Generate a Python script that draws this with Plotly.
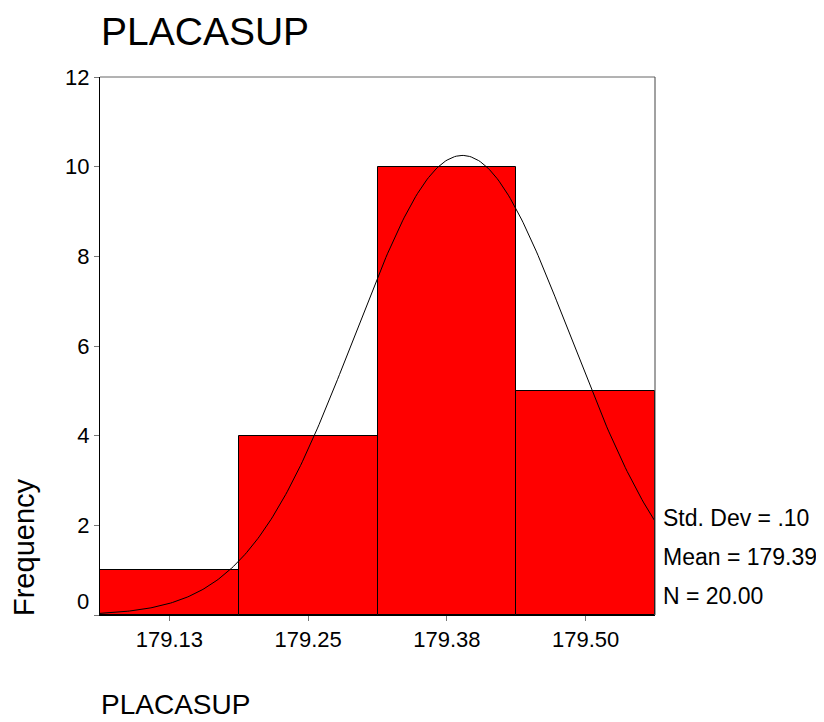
import numpy as np
import plotly.graph_objects as go

# Data
bin_centers = [179.125, 179.25, 179.375, 179.5]
frequencies = [1, 4, 10, 5]
tick_labels = ["179.13", "179.25", "179.38", "179.50"]
y_ticks = [0, 2, 4, 6, 8, 10, 12]
bin_width = 0.125
curve_mean = 179.389
curve_sd = 0.0973
n_obs = 20
stats_text = ["Std. Dev = .10", "Mean = 179.39", "N = 20.00"]

FONT = "Liberation Sans, Arial, sans-serif"

x_lo = bin_centers[0] - bin_width / 2
x_hi = bin_centers[-1] + bin_width / 2
xs = np.linspace(x_lo, x_hi, 300)
ys = n_obs * bin_width / (curve_sd * np.sqrt(2 * np.pi)) * np.exp(-0.5 * ((xs - curve_mean) / curve_sd) ** 2)

fig = go.Figure()
fig.add_trace(go.Bar(
    x=bin_centers, y=frequencies, width=[bin_width] * len(bin_centers),
    marker=dict(color="#FF0000", line=dict(color="black", width=1)),
    hoverinfo="skip", showlegend=False,
))
fig.add_trace(go.Scatter(
    x=xs, y=ys, mode="lines", line=dict(color="black", width=1),
    hoverinfo="skip", showlegend=False,
))

# frame top/right
fig.add_shape(type="line", xref="paper", yref="paper", x0=0, x1=1, y0=1, y1=1,
              line=dict(color="#666666", width=1))
fig.add_shape(type="line", xref="paper", yref="paper", x0=1, x1=1, y0=0, y1=1,
              line=dict(color="#444444", width=1))

annotations = [
    dict(text="PLACASUP", x=0, y=1, xref="paper", yref="paper", xanchor="left",
         yanchor="middle", yshift=46, showarrow=False, borderpad=0,
         font=dict(family=FONT, size=39, color="black")),
    dict(text="PLACASUP", x=0, y=0, xref="paper", yref="paper", xanchor="left",
         yanchor="middle", yshift=-89, showarrow=False, borderpad=0,
         font=dict(family=FONT, size=28, color="black")),
    dict(text="Frequency", x=0, y=0, xref="paper", yref="paper", xanchor="center",
         yanchor="bottom", xshift=-76, yshift=-3, textangle=-90, showarrow=False,
         font=dict(family=FONT, size=29, color="black")),
    # SPSS draws the zero label slightly above the baseline
    dict(text="0", x=0, y=0, xref="paper", yref="y", xanchor="right",
         yanchor="middle", xshift=-9, yshift=14, showarrow=False,
         font=dict(family=FONT, size=22, color="black")),
]
for i, t in enumerate(stats_text):
    annotations.append(dict(text=t, x=1, y=0, xref="paper", yref="paper",
                            xanchor="left", yanchor="middle", xshift=6,
                            yshift=97 - 39 * i, showarrow=False,
                            font=dict(family=FONT, size=23, color="black")))

fig.update_layout(
    width=816, height=714,
    margin=dict(l=92, r=169, t=69, b=107),
    paper_bgcolor="white", plot_bgcolor="white",
    bargap=0,
    font=dict(family=FONT, size=22, color="black"),
    xaxis=dict(range=[x_lo, x_hi], tickvals=bin_centers, ticktext=tick_labels,
               ticks="outside", ticklen=5, tickcolor="#777777", showgrid=False,
               zeroline=False, showline=True, linecolor="black", linewidth=1,
               tickfont=dict(family=FONT, size=22)),
    yaxis=dict(range=[0, 12], tickvals=y_ticks,
               ticktext=[""] + [str(v) for v in y_ticks[1:]],
               ticks="outside", ticklen=5, tickcolor="#777777", showgrid=False,
               zeroline=False, showline=True, linecolor="black", linewidth=1,
               tickfont=dict(family=FONT, size=22)),
    annotations=annotations,
)

fig.write_html("out.html")
